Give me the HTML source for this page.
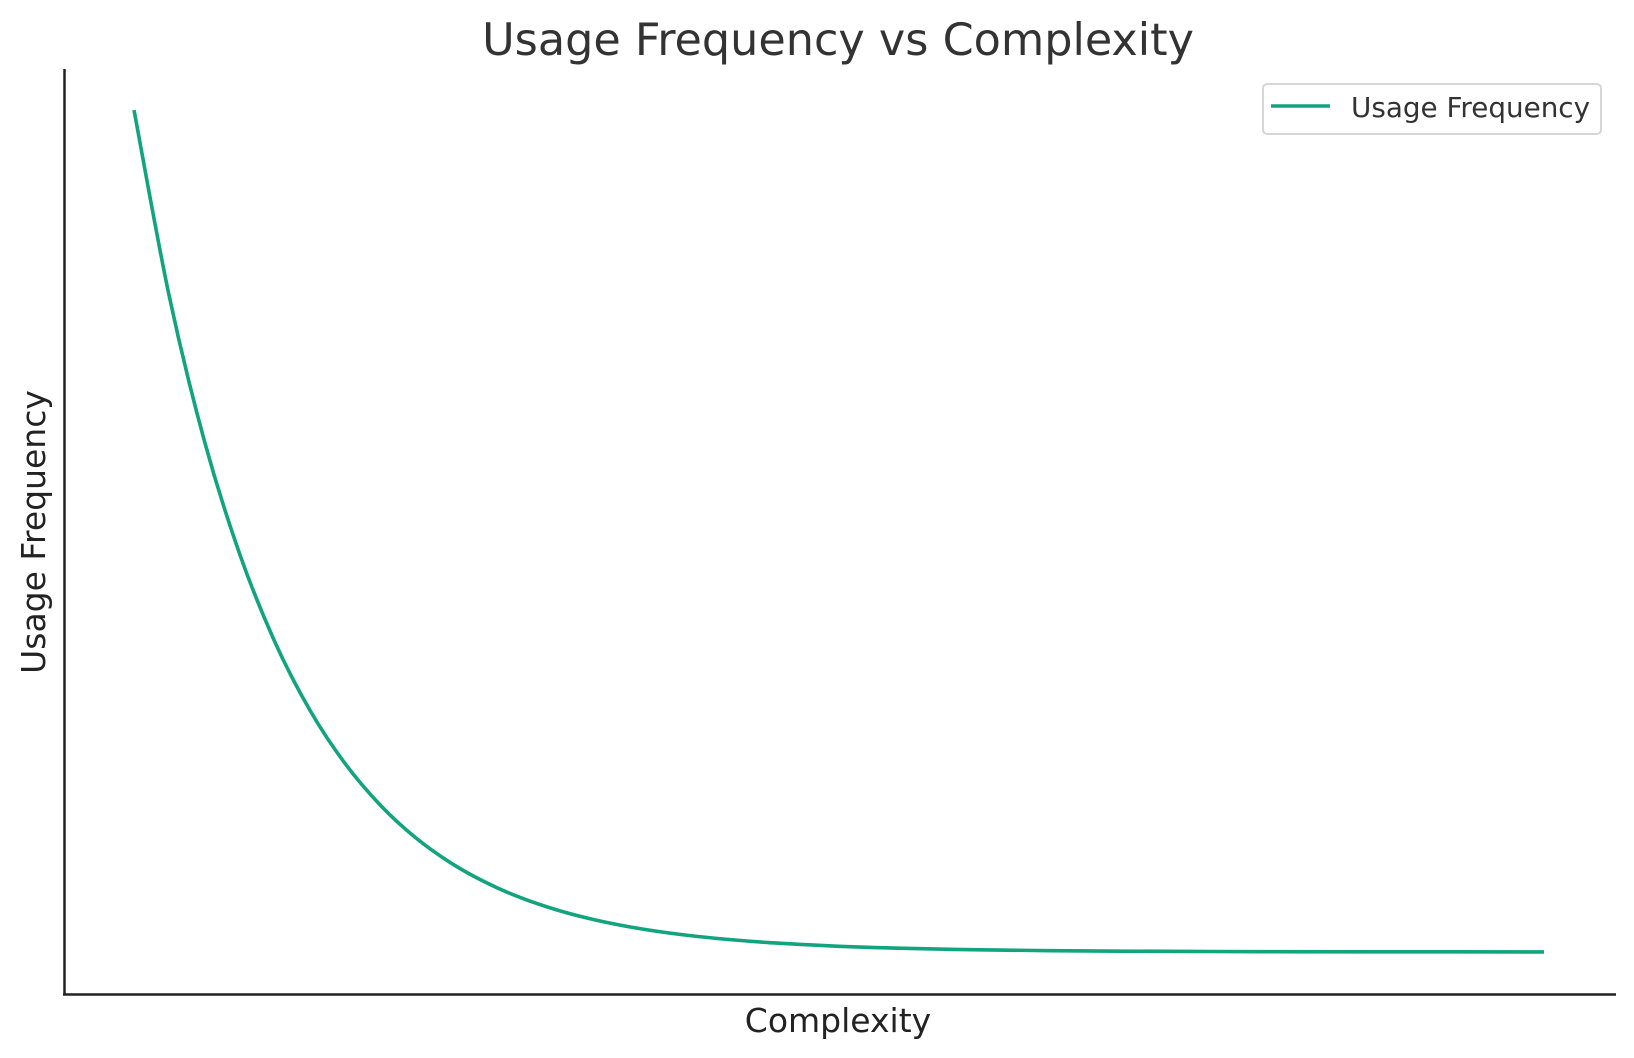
<!DOCTYPE html>
<html><head><meta charset="utf-8"><style>
body{margin:0;background:#fff;}
svg{display:block;font-family:"DejaVu Sans","Liberation Sans",sans-serif;}
</style></head><body>
<svg id="chart" width="1634" height="1058">
<text x="838" y="55" text-anchor="middle" font-size="44.5" fill="#333">Usage Frequency vs Complexity</text>
<text x="838" y="1032" text-anchor="middle" font-size="33" fill="#222">Complexity</text>
<text transform="translate(45,532) rotate(-90)" text-anchor="middle" font-size="33" fill="#222">Usage Frequency</text>
<g id="plot"></g>
<line x1="64.5" y1="69" x2="64.5" y2="995" stroke="#222" stroke-width="2.5"/>
<line x1="63" y1="994.5" x2="1616" y2="994.5" stroke="#222" stroke-width="2.5"/>
<g>
<rect x="1263" y="84" width="338" height="50" rx="4" fill="#fff" stroke="#d6d6d6" stroke-width="2"/>
<line x1="1271" y1="106" x2="1330" y2="106" stroke="#12a37f" stroke-width="3.6"/>
<text x="1351" y="117" font-size="27.8" fill="#333">Usage Frequency</text>
</g>
</svg>
<script>
const complexity=[0,0.25,0.5,0.75,1,1.25,1.5,1.75,2,2.25,2.5,2.75,3,3.25,3.5,3.75,4,4.25,4.5,4.75,5,5.25,5.5,5.75,6,6.5,7,7.5,8,9,10];
const usage=[1,0.7788,0.6065,0.4724,0.3679,0.2865,0.2231,0.1738,0.1353,0.1054,0.0821,0.0639,0.0498,0.0388,0.0302,0.0235,0.0183,0.0143,0.0111,0.0087,0.0067,0.0052,0.0041,0.0032,0.0025,0.0015,0.0009,0.0006,0.0003,0.0001,0.0000];
const XL=63.5,XR=1614.5,Y0=994,Y1=68;
const xmin=-0.5,xmax=10.5,ymin=-0.05,ymax=1.05;
function sx(v){return XL+(v-xmin)/(xmax-xmin)*(XR-XL);}
function sy(v){return Y0-(v-ymin)/(ymax-ymin)*(Y0-Y1);}
const pts=complexity.map((c,i)=>[sx(c),sy(usage[i])]);
let d="M"+pts[0][0]+","+pts[0][1];
for(let i=0;i<pts.length-1;i++){
 const p0=pts[Math.max(0,i-1)],p1=pts[i],p2=pts[i+1],p3=pts[Math.min(pts.length-1,i+2)];
 const c1=[p1[0]+(p2[0]-p0[0])/6,p1[1]+(p2[1]-p0[1])/6];
 const c2=[p2[0]-(p3[0]-p1[0])/6,p2[1]-(p3[1]-p1[1])/6];
 d+=" C"+c1+" "+c2+" "+p2;
}
const path=document.createElementNS("http://www.w3.org/2000/svg","path");
path.setAttribute("d",d);
path.setAttribute("fill","none");
path.setAttribute("stroke","#12a37f");
path.setAttribute("stroke-width","3.6");


document.getElementById("plot").appendChild(path);
</script>
</body></html>
